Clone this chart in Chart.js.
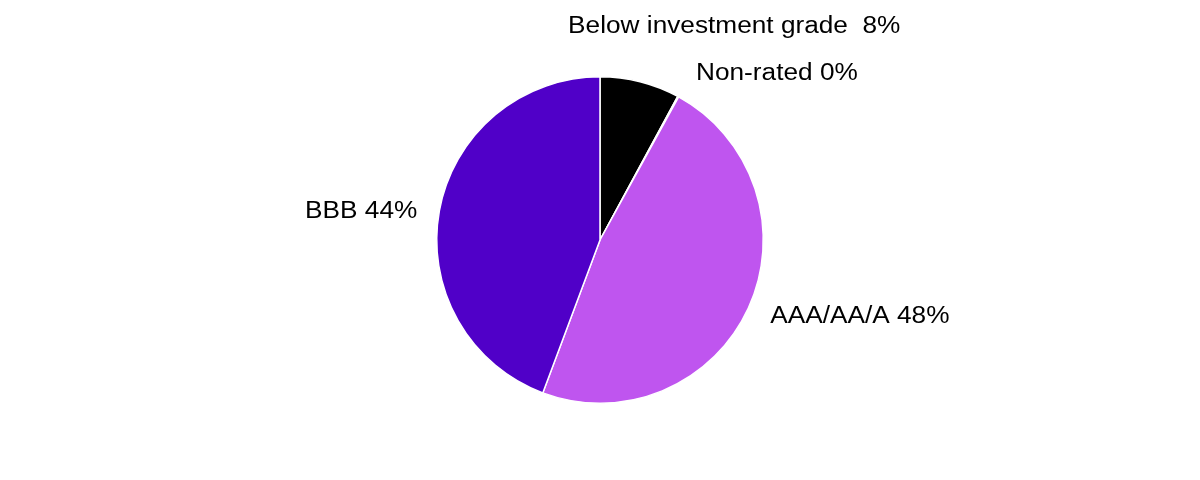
<!DOCTYPE html>
<html>
<head>
<meta charset="utf-8">
<script src="https://cdn.jsdelivr.net/npm/chart.js@4"></script>
<style>
  html, body { margin: 0; padding: 0; background: #fff; }
</style>
</head>
<body>
<canvas id="chartRating" width="1200" height="480"></canvas>
<script>
// Reparto por calificación crediticia (pie)
const ratingLabels = ['Below investment grade  8%', 'Non-rated 0%', 'AAA/AA/A 48%', 'BBB 44%'];
const ratingValues = [7.9, 0.1, 47.7, 44.3];
const ratingColors = ['#000000', '#c8c8c8', '#bf55ef', '#5000c8'];

// desplazamiento de cada etiqueta respecto a su ancla (1.1 x radio)
const labelNudge = [[-76, -39], [10, -9], [7, 2], [-6, 4]];

const sliceLabels = {
  id: 'sliceLabels',
  afterDatasetsDraw(chart) {
    const { ctx } = chart;
    const arcs = chart.getDatasetMeta(0).data;
    ctx.save();
    ctx.font = '23px "Liberation Sans", Arial, sans-serif';
    ctx.fillStyle = '#000';
    ctx.textBaseline = 'middle';
    arcs.forEach((arc, i) => {
      const mid = (arc.startAngle + arc.endAngle) / 2;
      const r = arc.outerRadius * 1.1;
      const x = arc.x + Math.cos(mid) * r + labelNudge[i][0];
      const y = arc.y + Math.sin(mid) * r + labelNudge[i][1];
      ctx.save();
      ctx.translate(x, y);
      ctx.scale(1.14, 1);
      ctx.textAlign = Math.cos(mid) >= 0 ? 'left' : 'right';
      ctx.fillText(ratingLabels[i], 0, 0);
      ctx.restore();
    });
    ctx.restore();
  }
};

const ctxRating = document.getElementById('chartRating').getContext('2d');
new Chart(ctxRating, {
  type: 'pie',
  data: {
    labels: ratingLabels,
    datasets: [{
      data: ratingValues,
      backgroundColor: ratingColors,
      borderColor: '#ffffff',
      borderWidth: 1.5
    }]
  },
  options: {
    responsive: false,
    animation: false,
    devicePixelRatio: 1,
    layout: { padding: { top: 76, bottom: 76 } },
    plugins: {
      legend: { display: false },
      tooltip: { enabled: false }
    }
  },
  plugins: [sliceLabels]
});
</script>
</body>
</html>
